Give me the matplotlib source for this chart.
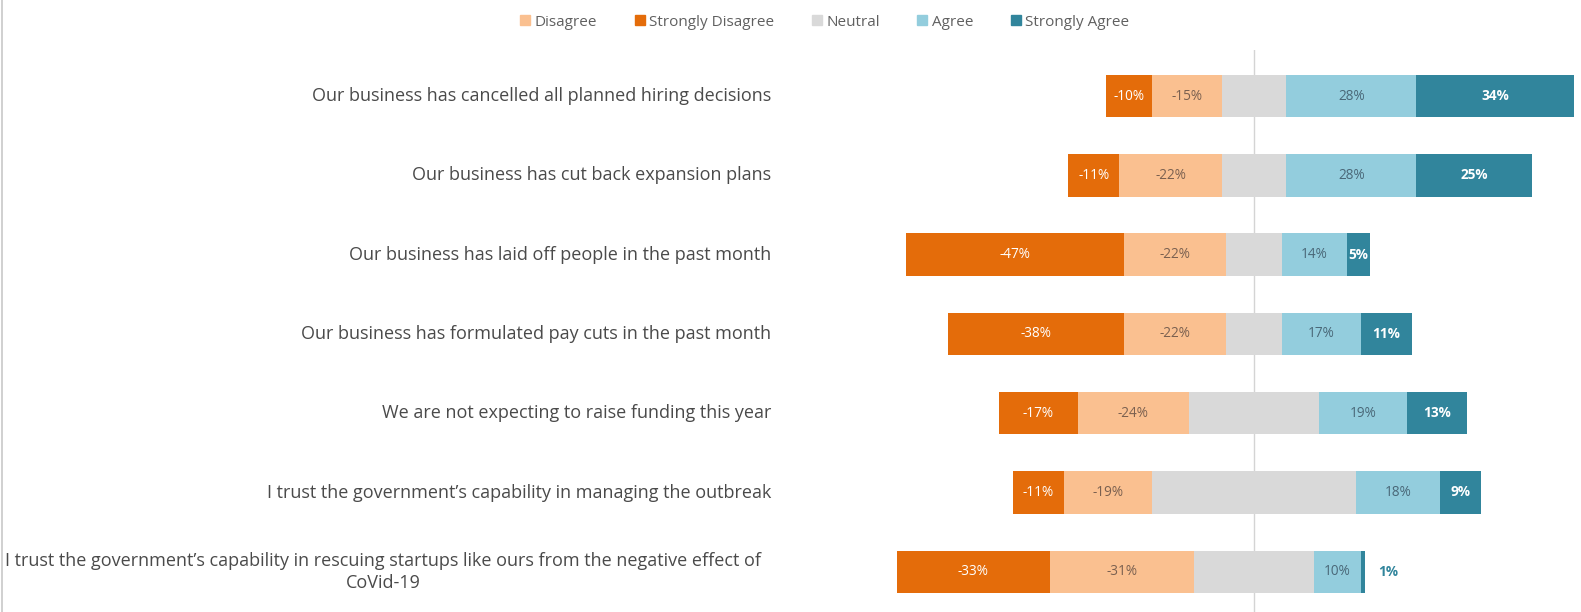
import numpy as np
import matplotlib.pyplot as plt
from matplotlib.lines import Line2D
from matplotlib.transforms import blended_transform_factory

plt.rcParams['font.family'] = ['Open Sans', 'DejaVu Sans']

# survey statements, top to bottom
statements = [
    "Our business has cancelled all planned hiring decisions",
    "Our business has cut back expansion plans",
    "Our business has laid off people in the past month",
    "Our business has formulated pay cuts in the past month",
    "We are not expecting to raise funding this year",
    "I trust the government\u2019s capability in managing the outbreak",
    "I trust the government\u2019s capability in rescuing startups like ours from the negative effect of\nCoVid-19",
]

# shares in percent
strongly_disagree = [10, 11, 47, 38, 17, 11, 33]
disagree = [15, 22, 22, 22, 24, 19, 31]
neutral = [14, 14, 12, 12, 28, 44, 26]
agree = [28, 28, 14, 17, 19, 18, 10]
strongly_agree = [34, 25, 5, 11, 13, 9, 1]

c_sd = '#E46C0A'
c_d = '#FAC090'
c_n = '#D9D9D9'
c_a = '#93CDDD'
c_sa = '#31859C'

W, H = 1581, 612
fig = plt.figure(figsize=(W / 100, H / 100), dpi=100)

# axes placed in pixels: zero line at x=1254, 4.64 px per percent
ax_l, ax_r, ax_t, ax_b = 780, 1581, 50, 612
ax = fig.add_axes([ax_l / W, 1 - ax_b / H, (ax_r - ax_l) / W, (ax_b - ax_t) / H])
px = 4.64
ax.set_xlim((ax_l - 1254) / px, (ax_r - 1254) / px)
row0, step = 96, 79.3
ax.set_ylim((ax_b - row0) / step, (ax_t - row0) / step)

y = np.arange(len(statements))
sd = np.array(strongly_disagree)
d = np.array(disagree)
n = np.array(neutral)
a = np.array(agree)
sa = np.array(strongly_agree)
h = 0.535

left_n = -n / 2
left_d = left_n - d
left_sd = left_d - sd
left_a = n / 2
left_sa = left_a + a

ax.barh(y, sd, left=left_sd, height=h, color=c_sd)
ax.barh(y, d, left=left_d, height=h, color=c_d)
ax.barh(y, n, left=left_n, height=h, color=c_n)
ax.barh(y, a, left=left_a, height=h, color=c_a)
ax.barh(y, sa, left=left_sa, height=h, color=c_sa)

ax.axvline(0, color='#d4d4d4', lw=1, zorder=0)

fs = 9.8
for i in range(len(y)):
    ax.text(left_sd[i] + sd[i] / 2, y[i], f"-{sd[i]}%", ha='center', va='center',
            color='white', fontsize=fs)
    ax.text(left_d[i] + d[i] / 2, y[i], f"-{d[i]}%", ha='center', va='center',
            color='#7a6050', fontsize=fs)
    ax.text(left_a[i] + a[i] / 2, y[i], f"{a[i]}%", ha='center', va='center',
            color='#4a6878', fontsize=fs)
    if sa[i] >= 3:
        ax.text(left_sa[i] + sa[i] / 2, y[i], f"{sa[i]}%", ha='center', va='center',
                color='white', fontsize=fs, fontweight='bold')
    else:
        ax.text(left_sa[i] + sa[i] + 2.8, y[i], f"{sa[i]}%", ha='left', va='center',
                color=c_sa, fontsize=fs, fontweight='bold')

# statements right-aligned left of the bars; the two-line one sits a bit further left
tr = blended_transform_factory(fig.transFigure, ax.transData)
for i, s in enumerate(statements):
    xr = 761 if '\n' in s else 771
    ax.text(xr / W, y[i], s, transform=tr, ha='right', va='center',
            multialignment='center', fontsize=13.0, color='#4a4a4a', linespacing=1.25)

ax.set_xticks([])
ax.set_yticks([])
for sp in ax.spines.values():
    sp.set_visible(False)

handles = [
    Line2D([], [], marker='s', ls='none', color=c_d, markersize=7.5),
    Line2D([], [], marker='s', ls='none', color=c_sd, markersize=7.5),
    Line2D([], [], marker='s', ls='none', color=c_n, markersize=7.5),
    Line2D([], [], marker='s', ls='none', color=c_a, markersize=7.5),
    Line2D([], [], marker='s', ls='none', color=c_sa, markersize=7.5),
]
labels = ['Disagree', 'Strongly Disagree', 'Neutral', 'Agree', 'Strongly Agree']
fig.legend(handles, labels, loc='center', bbox_to_anchor=(825 / W, 1 - 22 / H), ncol=5,
           frameon=False, fontsize=11, handlelength=0.6, handletextpad=0.3,
           columnspacing=2.5, labelcolor='#606060')

# thin frame line at the left edge
fig.add_artist(Line2D([1.5 / W, 1.5 / W], [0, 1], transform=fig.transFigure,
                      color='#c8c8c8', lw=1.2))

fig.savefig('out.png', dpi=100, facecolor='white')
